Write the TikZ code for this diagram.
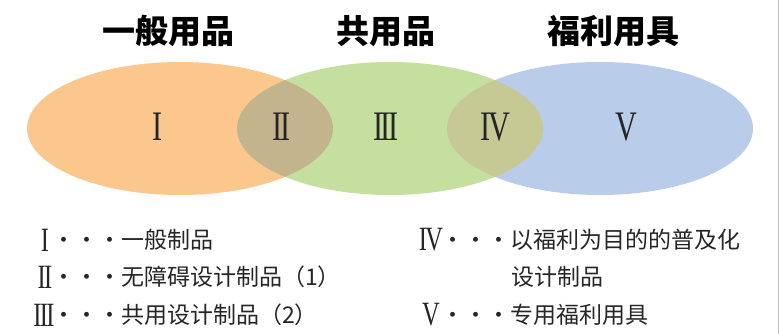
\documentclass[tikz,border=0pt]{standalone}
\usepackage{fontspec}
\usepackage{graphicx}
\newfontfamily\cjk{Noto Sans CJK SC}
\newfontfamily\romanfont{Liberation Serif}
\usetikzlibrary{positioning}

\definecolor{clrgen}{HTML}{FBC78C}
\definecolor{clrcom}{HTML}{C5DF9F}
\definecolor{clrwel}{HTML}{B9CDEB}
\definecolor{clrgc}{HTML}{C4B48E}
\definecolor{clrcw}{HTML}{C6C994}

\tikzset{
  title/.style={font=\cjk\bfseries\fontsize{33}{33}\selectfont, inner sep=0pt},
  roman/.style={font=\romanfont\fontsize{42}{42}\selectfont, inner sep=0pt, text=black!85},
  numkey/.style={font=\romanfont\fontsize{34}{34}\selectfont, inner sep=0pt, text=black!85},
  keytext/.style={font=\cjk\fontsize{23}{23}\selectfont, inner sep=0pt, anchor=west, text=black!85}
}

\begin{document}
\begin{tikzpicture}[x=1pt,y=-1pt]
  \useasboundingbox (0,0) rectangle (779,334);
  \def\rx{153pt}
  \def\ry{66.5pt}
  \def\cy{128.5}
  \def\rn#1{\scalebox{0.72}[1]{#1}}

  % the three sets
  \foreach \cx/\clr in {180/clrgen,390/clrcom,600/clrwel}{
    \fill[\clr] (\cx,\cy) ellipse [x radius=\rx, y radius=\ry];
  }
  \begin{scope}
    \clip (180,\cy) ellipse [x radius=\rx, y radius=\ry];
    \fill[clrgc] (390,\cy) ellipse [x radius=\rx, y radius=\ry];
  \end{scope}
  \begin{scope}
    \clip (390,\cy) ellipse [x radius=\rx, y radius=\ry];
    \fill[clrcw] (600,\cy) ellipse [x radius=\rx, y radius=\ry];
  \end{scope}

  \node[title] (tgen) at (168,31) {一般用品};
  \node[title] (tcom) at (386,31) {共用品};
  \node[title] (twel) at (613,31) {福利用具};

  \foreach \x/\t/\n in {158/I/a,282/I\kern-.07em I/b,386/I\kern-.07em I\kern-.07em I/c,495/I\kern-.07em V/d,626/V/e}{
    \node[roman] (r\n) at (\x,127) {\rn{\t}};
  }

  % legend
  \node[numkey] (ka) at (45,240) {\rn{I}};
  \node[keytext] (la) at (52,240) {・・・一般制品};
  \node[numkey] (kb) at (45,277) {\rn{I\kern-.07em I}};
  \node[keytext] (lb) at (52,277) {・・・无障碍设计制品（1）};
  \node[numkey] (kc) at (44,315) {\rn{I\kern-.07em I\kern-.07em I}};
  \node[keytext] (lc) at (52,315) {・・・共用设计制品（2）};
  \node[numkey] (kd) at (431,240) {\rn{I\kern-.07em V}};
  \node[keytext] (ld) at (441.5,240) {・・・以福利为目的的普及化};
  \node[keytext] (ld2) at (511.5,277) {设计制品};
  \node[numkey] (ke) at (431,315) {\rn{V}};
  \node[keytext] (le) at (441.5,315) {・・・专用福利用具};

  \draw[black!25, line width=1pt] (778,0) -- (778,334);
\end{tikzpicture}
\end{document}
